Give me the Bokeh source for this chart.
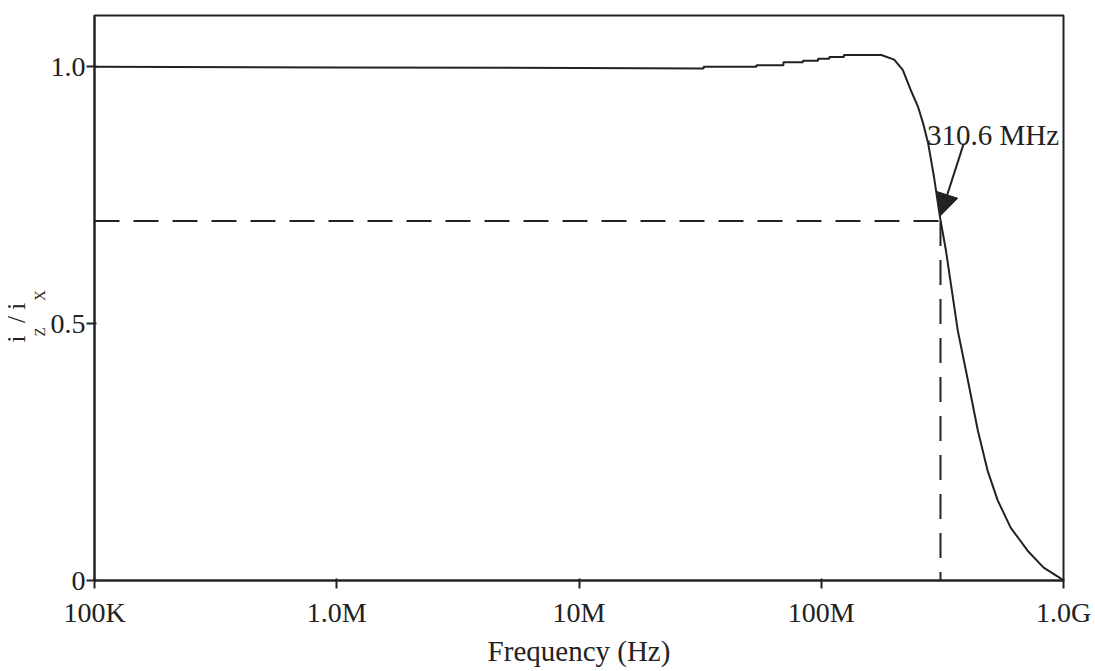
import numpy as np
from bokeh.plotting import figure
from bokeh.models import Range1d, FixedTicker, Label, Arrow, NormalHead, Title
from bokeh.embed import file_html
from bokeh.resources import INLINE

# ---- data ----
freq_hz = [1e5, 1e6, 1e7, 3.27e7, 3.27e7, 5.4e7, 5.4e7, 6.98e7, 6.98e7, 8.4e7, 8.4e7,
           9.7e7, 9.7e7, 1.08e8, 1.08e8, 1.24e8, 1.24e8, 1.77e8, 2.0e8, 2.17e8, 2.34e8,
           2.51e8, 2.63e8, 2.76e8, 2.92e8, 3.09e8, 3.27e8, 3.66e8, 4.03e8, 4.43e8,
           4.86e8, 5.35e8, 6.05e8, 7.11e8, 8.28e8, 9.73e8, 1e9]
ratio = [1.0, 0.999, 0.998, 0.997, 1.0, 1.0, 1.003, 1.003, 1.009, 1.009, 1.012,
         1.012, 1.016, 1.016, 1.019, 1.019, 1.023, 1.023, 1.014, 0.994, 0.955,
         0.922, 0.891, 0.852, 0.786, 0.708, 0.643, 0.487, 0.39, 0.292,
         0.214, 0.156, 0.103, 0.058, 0.025, 0.004, 0.0]
cutoff_hz = 310.6e6
cutoff_ratio = 0.7
x_ticks = [1e5, 1e6, 1e7, 1e8, 1e9]
x_tick_labels = ["100K", "1.0M", "10M", "100M", "1.0G"]
y_ticks = [0, 0.5, 1.0]
y_tick_labels = ["0", "0.5", "1.0"]
cutoff_text = "310.6 MHz"
x_label = "Frequency (Hz)"
NB = "\u00a0"
y_label_main = "i" + NB * 2 + "/" + NB + "i"      # i_Z / i_X : main letters
y_label_sub = "Z" + NB * 7 + "X"                  # subscripts

INK = "#222222"
FONT = "Liberation Serif"

p = figure(width=1095, height=671, x_axis_type="log",
           x_range=Range1d(1e5, 1e9), y_range=Range1d(0, 1.1),
           output_backend="svg", toolbar_location=None,
           min_border_left=0, min_border_right=32, min_border_top=15, min_border_bottom=91)

p.background_fill_color = "white"
p.border_fill_color = "white"
p.outline_line_color = INK
p.outline_line_width = 2
p.grid.visible = False

p.xaxis.ticker = FixedTicker(ticks=x_ticks)
p.xaxis.major_label_overrides = {t: l for t, l in zip(x_ticks, x_tick_labels)}
p.yaxis.ticker = FixedTicker(ticks=y_ticks)
p.yaxis.major_label_overrides = {t: l for t, l in zip(y_ticks, y_tick_labels)}

for ax in (p.xaxis[0], p.yaxis[0]):
    ax.axis_line_color = INK
    ax.axis_line_width = 2
    ax.major_tick_line_color = INK
    ax.major_tick_line_width = 2
    ax.major_tick_out = 8
    ax.major_tick_in = 2
    ax.minor_tick_line_color = None
    ax.major_label_text_font = FONT
    ax.major_label_text_font_size = "28px"
    ax.major_label_text_color = INK
    ax.axis_label_text_font = FONT
    ax.axis_label_text_font_style = "normal"
    ax.axis_label_text_font_size = "29px"
    ax.axis_label_text_color = INK

p.xaxis.major_label_standoff = 8
p.yaxis.major_label_standoff = 1
p.xaxis.axis_label = x_label
p.xaxis.axis_label_standoff = 4

# rotated y-axis label built from two side titles (subscripts nearer the axis)
p.add_layout(Title(text=y_label_sub, text_font=FONT, text_font_size="15px",
                   text_font_style="normal", text_color=INK, align="left",
                   offset=244, standoff=0), "left")
p.add_layout(Title(text=y_label_main, text_font=FONT, text_font_size="25px",
                   text_font_style="normal", text_color=INK, align="left",
                   offset=238, standoff=0), "left")

# curve
p.line(freq_hz, ratio, line_color=INK, line_width=2)
# dashed cutoff guides
p.line([x_ticks[0], cutoff_hz], [cutoff_ratio, cutoff_ratio], line_color=INK,
       line_width=2, line_dash="25 14")
p.line([cutoff_hz, cutoff_hz], [cutoff_ratio, 0], line_color=INK,
       line_width=2, line_dash="25 14")

# annotation text + arrow
p.add_layout(Label(x=2.73e8, y=0.867, text=cutoff_text, text_font=FONT,
                   text_font_size="29px", text_color=INK,
                   text_align="left", text_baseline="alphabetic"))
p.add_layout(Arrow(x_start=3.87e8, y_start=0.85, x_end=cutoff_hz, y_end=cutoff_ratio + 0.01,
                   line_color=INK, line_width=2,
                   end=NormalHead(size=22, fill_color=INK, line_color=INK)))

open("out.html", "w").write(file_html(p, INLINE))
